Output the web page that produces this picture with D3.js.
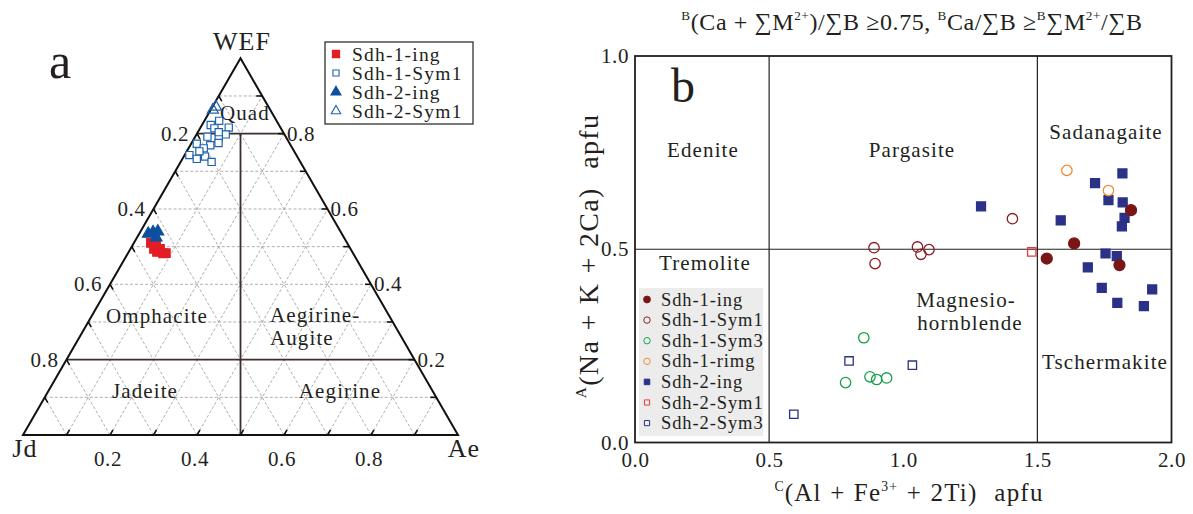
<!DOCTYPE html>
<html>
<head>
<meta charset="utf-8">
<script src="https://cdn.jsdelivr.net/npm/d3@7"></script>
<style>
  body { margin: 0; background: #fff; }
  svg { font-family: "Liberation Serif", "Times New Roman", serif; }
  text { white-space: pre; }
</style>
</head>
<body>
<svg id="chart"></svg>
<script>
// ---------- data: (a) ternary WEF–Jd–Ae, each point [WEF, Jd, Ae] ----------
const ternSeries = ['Sdh-1-ing', 'Sdh-1-Sym1', 'Sdh-2-ing', 'Sdh-2-Sym1'];
const ternSdh1Ing = [[0.510, 0.451, 0.039], [0.502, 0.443, 0.055], [0.494, 0.438, 0.068], [0.482, 0.437, 0.081],
                     [0.486, 0.449, 0.065], [0.483, 0.430, 0.087], [0.494, 0.452, 0.054]];
const ternSdh1Sym1 = [[0.834, 0.132, 0.034], [0.823, 0.157, 0.020], [0.816, 0.119, 0.065], [0.814, 0.153, 0.033],
                      [0.798, 0.135, 0.067], [0.792, 0.180, 0.028], [0.790, 0.155, 0.055], [0.773, 0.214, 0.013],
                      [0.769, 0.185, 0.046], [0.775, 0.163, 0.062], [0.761, 0.204, 0.035], [0.743, 0.246, 0.011],
                      [0.733, 0.234, 0.033], [0.739, 0.212, 0.049], [0.725, 0.204, 0.071], [0.804, 0.148, 0.048],
                      [0.753, 0.218, 0.029]];
const ternSdh2Ing = [[0.534, 0.445, 0.021], [0.538, 0.432, 0.030], [0.540, 0.420, 0.040], [0.524, 0.432, 0.044]];
const ternSdh2Sym1 = [[0.871, 0.121, 0.008], [0.863, 0.132, 0.005]];
const ternTicks = [0.2, 0.4, 0.6, 0.8];

// ---------- data: (b) amphibole classification, each point [C(Al+Fe3+ +2Ti), A(Na+K+2Ca)] ----------
const ampSeries = ['Sdh-1-ing', 'Sdh-1-Sym1', 'Sdh-1-Sym3', 'Sdh-1-rimg', 'Sdh-2-ing', 'Sdh-2-Sym1', 'Sdh-2-Sym3'];
const ampSdh1Ing = [[1.849, 0.601], [1.637, 0.515], [1.535, 0.476], [1.806, 0.459]];
const ampSdh1Sym1 = [[1.407, 0.579], [0.891, 0.504], [0.895, 0.463], [1.053, 0.506], [1.066, 0.487], [1.096, 0.499]];
const ampSdh1Sym3 = [[0.853, 0.271], [0.785, 0.155], [0.876, 0.170], [0.901, 0.163], [0.938, 0.167]];
const ampSdh1Rimg = [[1.610, 0.704], [1.765, 0.652]];
const ampSdh2Ing = [[1.290, 0.611], [1.817, 0.696], [1.715, 0.671], [1.765, 0.627], [1.818, 0.621], [1.825, 0.581],
                    [1.815, 0.559], [1.587, 0.575], [1.754, 0.489], [1.796, 0.482], [1.688, 0.453], [1.740, 0.400],
                    [1.928, 0.396], [1.798, 0.361], [1.897, 0.353]];
const ampSdh2Sym1 = [[1.479, 0.493]];
const ampSdh2Sym3 = [[0.798, 0.211], [1.034, 0.200], [0.592, 0.073]];
const ampXTicks = [0, 0.5, 1, 1.5, 2];
const ampYTicks = [0, 0.5, 1];

const ink = '#231f20';
const svg = d3.select('#chart').attr('width', 1193).attr('height', 514);

// rich text with superscripts: parts = [[text, isSup], ...]
function richText(g, parts, size) {
    const t = g.append('text').style('font-size', size + 'px');
    const up = size * 0.42;
    let cur = 0;
    parts.forEach(p => {
        const ts = t.append('tspan').text(p[0]);
        const target = p[1] ? -up : 0;
        if (target !== cur) ts.attr('dy', target - cur);
        if (p[1]) ts.style('font-size', (size * 0.55) + 'px');
        cur = target;
    });
    return t;
}

// =================== (a) ternary ===================
const tern = svg.append('g');
const tx = d3.scaleLinear().domain([0, 1]).range([23, 458]);
const ty = d3.scaleLinear().domain([0, 1]).range([435, 58.3]);
const tpos = (wef, ae) => [tx(ae + wef / 2), ty(wef)];

// dashed grid
const gridLines = [];
for (let k = 1; k < 10; k++) {
    const v = k / 10;
    if (k !== 2 && k !== 8) gridLines.push([tpos(v, 0), tpos(v, 1 - v)]);   // const WEF
    gridLines.push([tpos(0, v), tpos(1 - v, v)]);                            // const Ae
    gridLines.push([tpos(0, 1 - v), tpos(1 - v, 0)]);                        // const Jd
}
tern.selectAll('.grid').data(gridLines).join('line')
    .attr('class', 'grid')
    .attr('x1', d => d[0][0]).attr('y1', d => d[0][1])
    .attr('x2', d => d[1][0]).attr('y2', d => d[1][1])
    .attr('stroke', '#9a9a9a').attr('stroke-width', 0.8).attr('stroke-dasharray', '3,2');

// field boundaries
const fieldLines = [[tpos(0.8, 0), tpos(0.8, 0.2)], [tpos(0.2, 0), tpos(0.2, 0.8)], [[tx(0.5), ty(0.8)], [tx(0.5), ty(0)]]];
tern.selectAll('.field').data(fieldLines).join('line')
    .attr('class', 'field')
    .attr('x1', d => d[0][0]).attr('y1', d => d[0][1])
    .attr('x2', d => d[1][0]).attr('y2', d => d[1][1])
    .attr('stroke', '#3a2f2c').attr('stroke-width', 1.8);

// outline
tern.append('path')
    .attr('d', d3.line()([tpos(1, 0), tpos(0, 0), tpos(0, 1)]) + 'Z')
    .attr('fill', 'none').attr('stroke', '#111').attr('stroke-width', 2);

// edge ticks
const tickSegs = [];
for (let k = 1; k < 10; k++) {
    const v = k / 10;
    let p = tpos(1 - v, 0); tickSegs.push([p, [p[0] + 3, p[1] + 5.2]]);
    p = tpos(0, v); tickSegs.push([p, [p[0] + 3, p[1] - 5.2]]);
    p = tpos(v, 1 - v); tickSegs.push([p, [p[0] - 6, p[1]]]);
}
tern.selectAll('.ttick').data(tickSegs).join('line')
    .attr('class', 'ttick')
    .attr('x1', d => d[0][0]).attr('y1', d => d[0][1])
    .attr('x2', d => d[1][0]).attr('y2', d => d[1][1])
    .attr('stroke', '#111').attr('stroke-width', 1.6);

// tick labels
const tickFont = g => g.style('font-size', '21px').style('letter-spacing', '0.6px').attr('fill', ink);
tern.selectAll('.lab-l').data(ternTicks).join('text')
    .attr('x', d => tpos(1 - d, 0)[0] - 8).attr('y', d => tpos(1 - d, 0)[1] + 7)
    .attr('text-anchor', 'end').call(tickFont).text(d => d.toFixed(1));
tern.selectAll('.lab-r').data(ternTicks).join('text')
    .attr('x', d => tpos(d, 1 - d)[0] + 3).attr('y', d => tpos(d, 1 - d)[1] + 7)
    .call(tickFont).text(d => d.toFixed(1));
tern.selectAll('.lab-b').data(ternTicks).join('text')
    .attr('x', d => tpos(0, d)[0] - 2).attr('y', 466)
    .attr('text-anchor', 'middle').call(tickFont).text(d => d.toFixed(1));

// apex & field names: [text, x, y, size, anchor]
const ternText = [['WEF', 242, 50, 26, 'middle'], ['Jd', 25, 457, 26, 'middle'], ['Ae', 464, 457, 26, 'middle'],
                  ['a', 60, 78, 50, 'middle'], ['Quad', 220, 120, 21, 'start'], ['Omphacite', 157, 323, 21, 'middle'],
                  ['Jadeite', 145, 398, 21, 'middle'], ['Aegirine-', 270, 322, 21, 'start'], ['Augite', 270, 345, 21, 'start'],
                  ['Aegirine', 340, 398, 21, 'middle']];
tern.selectAll('.name').data(ternText).join('text')
    .attr('x', d => d[1]).attr('y', d => d[2]).attr('text-anchor', d => d[4])
    .style('font-size', d => d[3] + 'px').style('letter-spacing', d => d[3] > 40 ? '0px' : '1.1px')
    .attr('fill', ink).text(d => d[0]);

// symbols
const sq = d3.symbol().type(d3.symbolSquare);
const tri = d3.symbol().type(d3.symbolTriangle);
const ternStyle = {
    'Sdh-1-ing':  { data: ternSdh1Ing,  sym: sq.size(72)(),  fill: '#e31d25', stroke: '#e31d25' },
    'Sdh-1-Sym1': { data: ternSdh1Sym1, sym: sq.size(52)(),  fill: '#fff',    stroke: '#1f63b0' },
    'Sdh-2-ing':  { data: ternSdh2Ing,  sym: tri.size(60)(), fill: '#0f4f9f', stroke: '#0f4f9f' },
    'Sdh-2-Sym1': { data: ternSdh2Sym1, sym: tri.size(55)(), fill: 'none',    stroke: '#1f63b0' }
};
ternSeries.forEach(s => {
    const st = ternStyle[s];
    tern.append('g').selectAll('path').data(st.data).join('path')
        .attr('d', st.sym)
        .attr('transform', d => `translate(${tpos(d[0], d[2])})`)
        .attr('fill', st.fill).attr('stroke', st.stroke).attr('stroke-width', 1.2);
});

// legend (a)
const legA = tern.append('g').attr('transform', 'translate(325,42)');
legA.append('rect').attr('width', 148).attr('height', 82).attr('fill', '#fff').attr('stroke', ink).attr('stroke-width', 1.2);
ternSeries.forEach((s, i) => {
    const st = ternStyle[s];
    legA.append('path').attr('d', st.sym)
        .attr('transform', `translate(11,${12 + i * 19}) scale(0.85)`)
        .attr('fill', st.fill).attr('stroke', st.stroke).attr('stroke-width', 1.3);
    legA.append('text').attr('x', 27).attr('y', 18.5 + i * 19)
        .style('font-size', '19.5px').style('letter-spacing', '1.2px').attr('fill', ink).text(s);
});

// =================== (b) amphibole diagram ===================
const amp = svg.append('g');
const x = d3.scaleLinear().domain([0, 2]).range([635, 1171.5]);
const y = d3.scaleLinear().domain([0, 1]).range([442.5, 56]);

// field boundaries
amp.append('g').selectAll('line').data([0.5, 1.5]).join('line')
    .attr('x1', d => x(d)).attr('x2', d => x(d)).attr('y1', y(1)).attr('y2', y(0))
    .attr('stroke', ink).attr('stroke-width', 1.2);
amp.append('line').attr('x1', x(0)).attr('x2', x(2)).attr('y1', y(0.5)).attr('y2', y(0.5))
    .attr('stroke', ink).attr('stroke-width', 1.2);

// axes
const xAxis = d3.axisBottom(x).tickValues(ampXTicks).tickFormat(d3.format('.1f')).tickSize(0).tickPadding(10);
const yAxis = d3.axisLeft(y).tickValues(ampYTicks).tickFormat(d3.format('.1f')).tickSize(0).tickPadding(6);
amp.append('g').attr('transform', `translate(0,${y(0)})`).call(xAxis)
    .call(g => g.select('.domain').remove())
    .selectAll('text').style('font-family', '"Liberation Serif", serif').call(tickFont);
amp.append('g').attr('transform', `translate(${x(0)},0)`).call(yAxis)
    .call(g => g.select('.domain').remove())
    .selectAll('text').style('font-family', '"Liberation Serif", serif').call(tickFont);

// frame
amp.append('rect').attr('x', x(0)).attr('y', y(1)).attr('width', x(2) - x(0)).attr('height', y(0) - y(1))
    .attr('fill', 'none').attr('stroke', ink).attr('stroke-width', 1.8);

// field names: [text, x, y, size]
const ampText = [['b', 683, 102, 48], ['Edenite', 703, 157, 21], ['Tremolite', 705, 270, 21], ['Pargasite', 912, 157, 21],
                 ['Sadanagaite', 1106, 139, 21], ['Magnesio-', 966, 307, 21], ['hornblende', 970, 330, 21],
                 ['Tschermakite', 1105, 369, 21]];
amp.selectAll('.name').data(ampText).join('text')
    .attr('x', d => d[1]).attr('y', d => d[2]).attr('text-anchor', 'middle')
    .style('font-size', d => d[3] + 'px').style('letter-spacing', d => d[3] > 40 ? '0px' : '1.1px')
    .attr('fill', ink).text(d => d[0]);

// titles
richText(amp, [['B', 1], ['(Ca + \u2211M', 0], ['2+', 1], [')/\u2211B \u22650.75, ', 0], ['B', 1], ['Ca/\u2211B \u2265', 0],
               ['B', 1], ['\u2211M', 0], ['2+', 1], ['/\u2211B', 0]], 24)
    .attr('x', 912).attr('y', 30).attr('text-anchor', 'middle').style('letter-spacing', '0.6px').attr('fill', ink);
richText(amp, [['C', 1], ['(Al + Fe', 0], ['3+', 1], [' + 2Ti)  apfu', 0]], 25)
    .attr('x', 909).attr('y', 501).attr('text-anchor', 'middle')
    .style('letter-spacing', '1.2px').style('word-spacing', '1px').attr('fill', ink);
richText(amp, [['A', 1], ['(Na + K + 2Ca)  apfu', 0]], 28)
    .attr('transform', 'translate(598,256) rotate(-90)').attr('text-anchor', 'middle')
    .style('letter-spacing', '1.3px').style('word-spacing', '1px').attr('fill', ink);

// symbols
const circ = d3.symbol().type(d3.symbolCircle);
const ampStyle = {
    'Sdh-1-ing':  { data: ampSdh1Ing,  sym: circ.size(95)(), fill: '#7a1517', stroke: '#7a1517' },
    'Sdh-1-Sym1': { data: ampSdh1Sym1, sym: circ.size(85)(), fill: 'none',    stroke: '#8a1c1f' },
    'Sdh-1-Sym3': { data: ampSdh1Sym3, sym: circ.size(85)(), fill: 'none',    stroke: '#16a04b' },
    'Sdh-1-rimg': { data: ampSdh1Rimg, sym: circ.size(85)(), fill: 'none',    stroke: '#f08b32' },
    'Sdh-2-ing':  { data: ampSdh2Ing,  sym: sq.size(80)(),   fill: '#2b3186', stroke: '#2b3186' },
    'Sdh-2-Sym1': { data: ampSdh2Sym1, sym: sq.size(70)(),   fill: 'none',    stroke: '#e8393a' },
    'Sdh-2-Sym3': { data: ampSdh2Sym3, sym: sq.size(70)(),   fill: 'none',    stroke: '#2b3186' }
};
['Sdh-2-ing', 'Sdh-2-Sym1', 'Sdh-2-Sym3', 'Sdh-1-Sym1', 'Sdh-1-Sym3', 'Sdh-1-rimg', 'Sdh-1-ing'].forEach(s => {
    const st = ampStyle[s];
    amp.append('g').selectAll('path').data(st.data).join('path')
        .attr('d', st.sym)
        .attr('transform', d => `translate(${x(d[0])},${y(d[1])})`)
        .attr('fill', st.fill).attr('stroke', st.stroke).attr('stroke-width', 1.3);
});

// legend (b)
const legB = amp.append('g').attr('transform', 'translate(639,288)');
legB.append('rect').attr('width', 124).attr('height', 148).attr('fill', '#ececec');
ampSeries.forEach((s, i) => {
    const st = ampStyle[s];
    legB.append('path').attr('d', st.sym)
        .attr('transform', `translate(8,${11.5 + i * 20.6}) scale(0.62)`)
        .attr('fill', st.fill).attr('stroke', st.stroke).attr('stroke-width', 1.6);
    legB.append('text').attr('x', 22).attr('y', 17.5 + i * 20.6)
        .style('font-size', '18.5px').style('letter-spacing', '0.9px').attr('fill', ink).text(s);
});
</script>
</body>
</html>
